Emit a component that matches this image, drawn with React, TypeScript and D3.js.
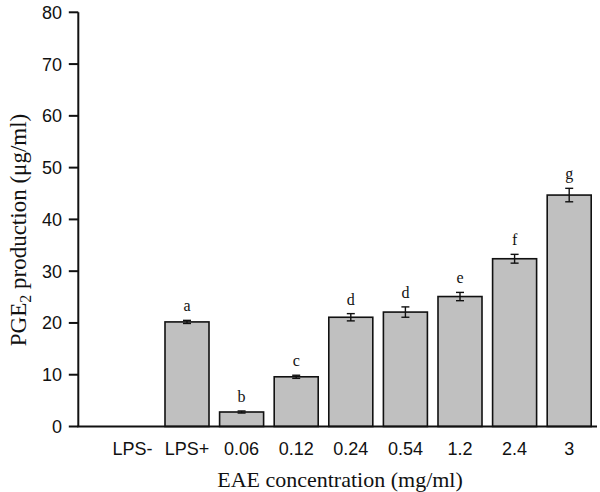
import React from "react";
import * as d3 from "d3";

const categories = ["LPS-", "LPS+", "0.06", "0.12", "0.24", "0.54", "1.2", "2.4", "3"];
const values = [0, 20.2, 2.8, 9.6, 21.1, 22.1, 25.1, 32.4, 44.7];
const errors = [0, 0.3, 0.2, 0.3, 0.7, 1.0, 0.8, 0.85, 1.3];
const letters = ["", "a", "b", "c", "d", "d", "e", "f", "g"];
const yTicks = [0, 10, 20, 30, 40, 50, 60, 70, 80];

const W = 600;
const H = 492;
const axisX = 78.3;
const axisY = 426.5;

export default function App() {
  const y = d3.scaleLinear().domain([0, 80]).range([axisY, 12.3]);
  const x = d3
    .scaleBand<string>()
    .domain(categories)
    .range([105.1, 596.5])
    .paddingInner(0.194)
    .paddingOuter(0.097);
  const bw = x.bandwidth();
  const sans = "'Liberation Sans', Arial, Helvetica, sans-serif";
  const serif = "'Liberation Serif', 'Times New Roman', serif";

  return (
    <svg
      width={W}
      height={H}
      style={{ position: "absolute", left: 0, top: 0, background: "#fff" }}
    >
      {/* bars */}
      {categories.map((c, i) =>
        values[i] > 0 ? (
          <rect
            key={c}
            x={x(c)!}
            y={y(values[i])}
            width={bw}
            height={axisY - y(values[i])}
            fill="#c0c0c0"
            stroke="#111"
            strokeWidth={1.6}
          />
        ) : null
      )}
      {/* error bars */}
      {categories.map((c, i) => {
        if (values[i] <= 0) return null;
        const cx = x(c)! + bw / 2;
        const top = y(values[i] + errors[i]);
        const bot = y(values[i] - errors[i]);
        return (
          <g key={"e" + c} stroke="#111" strokeWidth={1.4}>
            <line x1={cx} x2={cx} y1={top} y2={bot} />
            <line x1={cx - 4} x2={cx + 4} y1={top} y2={top} />
            <line x1={cx - 4} x2={cx + 4} y1={bot} y2={bot} />
          </g>
        );
      })}
      {/* letters */}
      {categories.map((c, i) =>
        letters[i] ? (
          <text
            key={"l" + c}
            x={x(c)! + bw / 2}
            y={y(values[i] + errors[i]) - 9}
            textAnchor="middle"
            fontFamily={serif}
            fontSize={16}
            fill="#111"
          >
            {letters[i]}
          </text>
        ) : null
      )}
      {/* axes */}
      <line x1={axisX} x2={axisX} y1={y(80)} y2={axisY} stroke="#111" strokeWidth={2} />
      <line x1={axisX - 1} x2={597} y1={axisY} y2={axisY} stroke="#111" strokeWidth={2} />
      {yTicks.map((t) => (
        <g key={"t" + t}>
          <line x1={axisX - 9.5} x2={axisX} y1={y(t)} y2={y(t)} stroke="#111" strokeWidth={2} />
          <text
            x={62}
            y={y(t)}
            dy="0.36em"
            textAnchor="end"
            fontFamily={sans}
            fontSize={18}
            fill="#111"
          >
            {t}
          </text>
        </g>
      ))}
      {categories.map((c) => (
        <text
          key={"x" + c}
          x={x(c)! + bw / 2}
          y={455}
          textAnchor="middle"
          fontFamily={sans}
          fontSize={18}
          fill="#111"
        >
          {c}
        </text>
      ))}
      <text
        x={340}
        y={487}
        textAnchor="middle"
        fontFamily={serif}
        fontSize={22}
        fill="#111"
      >
        EAE concentration (mg/ml)
      </text>
      <g transform="translate(26,230) rotate(-90)">
        <text textAnchor="middle" fontFamily={serif} fontSize={23} fill="#111">
          <tspan>PGE</tspan>
          <tspan dy={5} fontSize={16}>2</tspan>
          <tspan dy={-5}> production (μg/ml)</tspan>
        </text>
      </g>
    </svg>
  );
}
